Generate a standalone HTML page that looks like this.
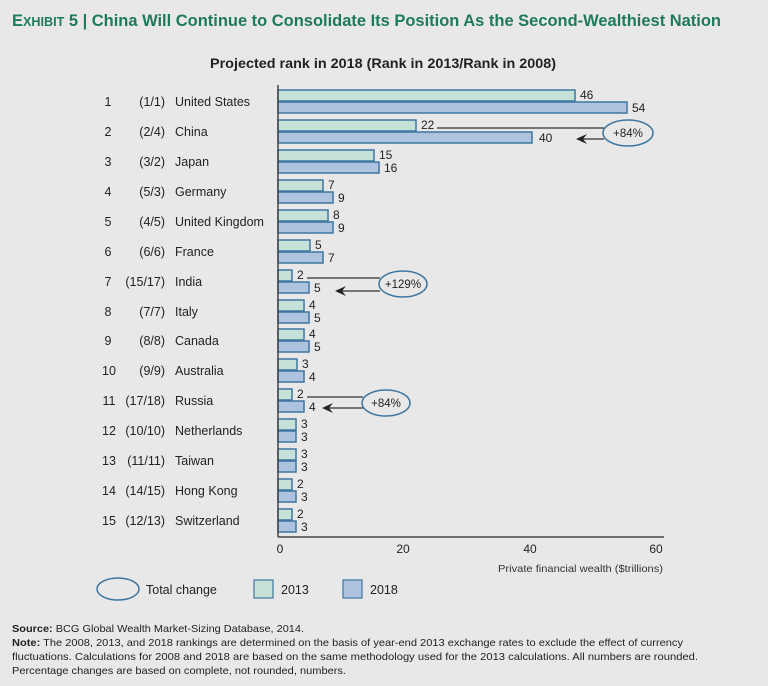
<!DOCTYPE html>
<html><head><meta charset="utf-8"><style>
html,body{margin:0;padding:0;background:#e8e8e9;}
svg{display:block;font-family:"Liberation Sans",sans-serif;}
</style></head><body>
<svg width="768" height="686" viewBox="0 0 768 686" xmlns="http://www.w3.org/2000/svg">
<rect width="768" height="686" fill="#e8e8e9"/>
<text x="12" y="26" fill="#1e7a5a" font-weight="bold" font-size="17" textLength="709" lengthAdjust="spacingAndGlyphs">E<tspan font-size="13">XHIBIT</tspan> 5 | China Will Continue to Consolidate Its Position As the Second-Wealthiest Nation</text>
<text x="210" y="68" fill="#222" font-weight="bold" font-size="14" textLength="346" lengthAdjust="spacingAndGlyphs">Projected rank in 2018 (Rank in 2013/Rank in 2008)</text>

<g font-size="12.5" fill="#222">
<g text-anchor="middle">
<text x="108" y="106">1</text><text x="108" y="136">2</text><text x="108" y="166">3</text><text x="108" y="196">4</text><text x="108" y="226">5</text><text x="108" y="256">6</text><text x="108" y="286">7</text><text x="108" y="316">8</text><text x="108" y="345">9</text><text x="109" y="375">10</text><text x="109" y="405">11</text><text x="109" y="435">12</text><text x="109" y="465">13</text><text x="109" y="495">14</text><text x="109" y="525">15</text>
</g>
<g text-anchor="end">
<text x="165" y="106">(1/1)</text><text x="165" y="136">(2/4)</text><text x="165" y="166">(3/2)</text><text x="165" y="196">(5/3)</text><text x="165" y="226">(4/5)</text><text x="165" y="256">(6/6)</text><text x="165" y="286">(15/17)</text><text x="165" y="316">(7/7)</text><text x="165" y="345">(8/8)</text><text x="165" y="375">(9/9)</text><text x="165" y="405">(17/18)</text><text x="165" y="435">(10/10)</text><text x="165" y="465">(11/11)</text><text x="165" y="495">(14/15)</text><text x="165" y="525">(12/13)</text>
</g>
<text x="175" y="106">United States</text><text x="175" y="136">China</text><text x="175" y="166">Japan</text><text x="175" y="196">Germany</text><text x="175" y="226">United Kingdom</text><text x="175" y="256">France</text><text x="175" y="286">India</text><text x="175" y="316">Italy</text><text x="175" y="345">Canada</text><text x="175" y="375">Australia</text><text x="175" y="405">Russia</text><text x="175" y="435">Netherlands</text><text x="175" y="465">Taiwan</text><text x="175" y="495">Hong Kong</text><text x="175" y="525">Switzerland</text>
</g>

<g stroke="#3f76a0" stroke-width="1.5">
<g fill="#c6e2d8">
<rect x="278" y="90" width="297" height="11"/>
<rect x="278" y="120" width="138" height="11"/>
<rect x="278" y="150" width="96" height="11"/>
<rect x="278" y="180" width="45" height="11"/>
<rect x="278" y="210" width="50" height="11"/>
<rect x="278" y="240" width="32" height="11"/>
<rect x="278" y="270" width="14" height="11"/>
<rect x="278" y="300" width="26" height="11"/>
<rect x="278" y="329" width="26" height="11"/>
<rect x="278" y="359" width="19" height="11"/>
<rect x="278" y="389" width="14" height="11"/>
<rect x="278" y="419" width="18" height="11"/>
<rect x="278" y="449" width="18" height="11"/>
<rect x="278" y="479" width="14" height="11"/>
<rect x="278" y="509" width="14" height="11"/>
</g>
<g fill="#adc3df">
<rect x="278" y="102" width="349" height="11"/>
<rect x="278" y="132" width="254" height="11"/>
<rect x="278" y="162" width="101" height="11"/>
<rect x="278" y="192" width="55" height="11"/>
<rect x="278" y="222" width="55" height="11"/>
<rect x="278" y="252" width="45" height="11"/>
<rect x="278" y="282" width="31" height="11"/>
<rect x="278" y="312" width="31" height="11"/>
<rect x="278" y="341" width="31" height="11"/>
<rect x="278" y="371" width="26" height="11"/>
<rect x="278" y="401" width="26" height="11"/>
<rect x="278" y="431" width="18" height="11"/>
<rect x="278" y="461" width="18" height="11"/>
<rect x="278" y="491" width="18" height="11"/>
<rect x="278" y="521" width="18" height="11"/>
</g>
</g>

<g font-size="12" fill="#222">
<text x="580" y="99">46</text><text x="632" y="112">54</text>
<text x="421" y="129">22</text><text x="539" y="142">40</text>
<text x="379" y="159">15</text><text x="384" y="172">16</text>
<text x="328" y="189">7</text><text x="338" y="202">9</text>
<text x="333" y="219">8</text><text x="338" y="232">9</text>
<text x="315" y="249">5</text><text x="328" y="262">7</text>
<text x="297" y="279">2</text><text x="314" y="292">5</text>
<text x="309" y="309">4</text><text x="314" y="322">5</text>
<text x="309" y="338">4</text><text x="314" y="351">5</text>
<text x="302" y="368">3</text><text x="309" y="381">4</text>
<text x="297" y="398">2</text><text x="309" y="411">4</text>
<text x="301" y="428">3</text><text x="301" y="441">3</text>
<text x="301" y="458">3</text><text x="301" y="471">3</text>
<text x="297" y="488">2</text><text x="301" y="501">3</text>
<text x="297" y="518">2</text><text x="301" y="531">3</text>
</g>

<g stroke="#333" stroke-width="1.3" fill="none">
<line x1="437" y1="128" x2="604" y2="128"/><line x1="604" y1="139" x2="580" y2="139"/>
<line x1="307" y1="278" x2="380" y2="278"/><line x1="380" y1="291" x2="340" y2="291"/>
<line x1="307" y1="397" x2="363" y2="397"/><line x1="363" y1="408" x2="328" y2="408"/>
</g>
<g fill="#222">
<polygon points="576,139 587,134 583,139 587,144"/>
<polygon points="335,291 346,286 342,291 346,296"/>
<polygon points="322,408 333,403 329,408 333,413"/>
</g>
<g stroke="#3f76a0" stroke-width="1.5" fill="#e8e8e9">
<ellipse cx="628" cy="133" rx="25" ry="13"/>
<ellipse cx="403" cy="284" rx="24" ry="13"/>
<ellipse cx="386" cy="403" rx="24" ry="13"/>
</g>
<g font-size="11.5" fill="#222" text-anchor="middle">
<text x="628" y="137">+84%</text><text x="403" y="288">+129%</text><text x="386" y="407">+84%</text>
</g>

<line x1="278" y1="85" x2="278" y2="537" stroke="#444" stroke-width="1.5"/>
<line x1="278" y1="537" x2="664" y2="537" stroke="#444" stroke-width="1.5"/>
<g font-size="12" fill="#222" text-anchor="middle">
<text x="280" y="553">0</text><text x="403" y="553">20</text><text x="530" y="553">40</text><text x="656" y="553">60</text>
</g>
<text x="663" y="572" font-size="10.5" fill="#333" text-anchor="end" textLength="165" lengthAdjust="spacingAndGlyphs">Private financial wealth ($trillions)</text>

<ellipse cx="118" cy="589" rx="21" ry="11" fill="none" stroke="#3f76a0" stroke-width="1.5"/>
<text x="146" y="594" font-size="12.5" fill="#222">Total change</text>
<rect x="254" y="580" width="19" height="18" fill="#c6e2d8" stroke="#3f76a0" stroke-width="1.2"/>
<text x="281" y="594" font-size="12.5" fill="#222">2013</text>
<rect x="343" y="580" width="19" height="18" fill="#adc3df" stroke="#3f76a0" stroke-width="1.2"/>
<text x="370" y="594" font-size="12.5" fill="#222">2018</text>

<g font-size="10.5" fill="#222">
<text x="12" y="632" textLength="292" lengthAdjust="spacingAndGlyphs"><tspan font-weight="bold">Source:</tspan> BCG Global Wealth Market-Sizing Database, 2014.</text>
<text x="12" y="646" textLength="671" lengthAdjust="spacingAndGlyphs"><tspan font-weight="bold">Note:</tspan> The 2008, 2013, and 2018 rankings are determined on the basis of year-end 2013 exchange rates to exclude the effect of currency</text>
<text x="12" y="660" textLength="686" lengthAdjust="spacingAndGlyphs">fluctuations. Calculations for 2008 and 2018 are based on the same methodology used for the 2013 calculations. All numbers are rounded.</text>
<text x="12" y="674" textLength="334" lengthAdjust="spacingAndGlyphs">Percentage changes are based on complete, not rounded, numbers.</text>
</g>
</svg>
</body></html>
